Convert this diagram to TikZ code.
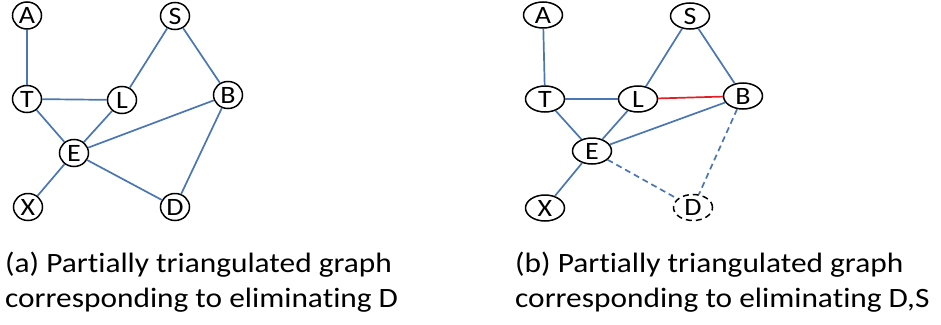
\documentclass[tikz,border=0pt]{standalone}
\usepackage{fontspec}
\setmainfont{Carlito}[FakeStretch=1.12,RawFeature=-liga]
\usetikzlibrary{shapes.geometric}
\definecolor{edgeblue}{RGB}{74,118,178}
\definecolor{fillred}{RGB}{228,30,36}
\begin{document}
\begin{tikzpicture}[x=1pt,y=-1pt,
  vtx/.style={ellipse,draw=black,line width=1.5pt,fill=white,inner sep=0pt,
    font=\fontsize{25}{25}\selectfont},
  va/.style={vtx,minimum width=29pt,minimum height=27pt},
  vb/.style={vtx,minimum width=39pt,minimum height=26pt},
  edge/.style={draw=edgeblue,line width=1.7pt},
  fill-in/.style={draw=fillred,line width=1.7pt},
  gone/.style={dash pattern=on 6pt off 4pt},
  captext/.style={anchor=base west,inner sep=0pt,font=\fontsize{28}{28}\selectfont}]
  \useasboundingbox (0,0) rectangle (941,324);

  % (a) graph after eliminating D
  \node[va] (A1) at (27,15.5) {A};
  \node[va] (S1) at (175,16) {S};
  \node[va] (T1) at (27,99) {T};
  \node[va] (L1) at (122,100) {L};
  \node[va] (B1) at (228,95) {B};
  \node[va] (E1) at (74,153) {E};
  \node[va] (X1) at (28,207) {X};
  \node[va] (D1) at (175,207) {D};
  \draw[edge] (A1) -- (T1);
  \draw[edge] (T1) -- (L1);
  \draw[edge] (T1) -- (E1);
  \draw[edge] (L1) -- (S1);
  \draw[edge] (L1) -- (E1);
  \draw[edge] (S1) -- (B1);
  \draw[edge] (B1) -- (E1);
  \draw[edge] (B1) -- (D1);
  \draw[edge] (E1) -- (D1);
  \draw[edge] (E1) -- (X1);

  % (b) graph after eliminating D and S
  \node[vb] (A2) at (543,15) {A};
  \node[vb] (S2) at (690,16) {S};
  \node[vb] (T2) at (545,99) {T};
  \node[vb] (L2) at (638,99) {L};
  \node[vb] (B2) at (743,96) {B};
  \node[vb] (E2) at (592,151) {E};
  \node[vb] (X2) at (545,208) {X};
  \node[vb,gone] (D2) at (693,207.5) {D};
  \draw[edge] (A2) -- (T2);
  \draw[edge] (T2) -- (L2);
  \draw[edge] (T2) -- (E2);
  \draw[edge] (L2) -- (S2);
  \draw[edge] (L2) -- (E2);
  \draw[edge] (S2) -- (B2);
  \draw[fill-in] (L2) -- (B2);
  \draw[edge] (B2) -- (E2);
  \draw[edge,gone] (B2) -- (D2);
  \draw[edge,gone] (E2) -- (D2);
  \draw[edge] (E2) -- (X2);

  % captions
  \node[captext] (capa1) at (5,272) {(a) Partially triangulated graph};
  \node[captext] (capa2) at (5,307) {corresponding to eliminating D};
  \node[captext] (capb1) at (515,272) {(b) Partially triangulated graph};
  \node[captext] (capb2) at (515,307) {corresponding to eliminating D,S};
\end{tikzpicture}
\end{document}
